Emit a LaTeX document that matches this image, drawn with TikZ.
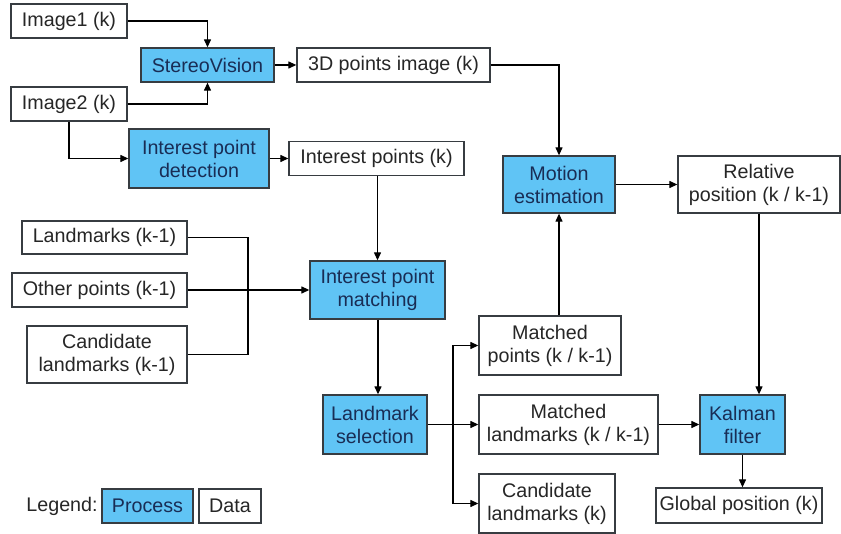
\documentclass[tikz,border=0pt]{standalone}
\usepackage{fontspec}
\setmainfont{Liberation Sans}
\usepackage{tikz}
\usetikzlibrary{arrows.meta,calc,positioning}
\definecolor{procblue}{RGB}{96,196,245}
\definecolor{proctext}{RGB}{25,45,85}
\definecolor{boxline}{RGB}{55,60,65}
\tikzset{
	proc/.style={draw=boxline,fill=procblue,text=proctext,line width=1.3pt,align=center,inner sep=0pt,font=\fontsize{19.7}{23}\selectfont},
	dat/.style={draw=boxline,fill=white,text=black!85,line width=1.3pt,align=center,inner sep=0pt,font=\fontsize{19.7}{23}\selectfont},
	edge/.style={color=black, line width=1.2pt},
	diredge/.style={-{Triangle[width=7pt,length=8pt]},color=black, line width=1.2pt}
}
\begin{document}
\begin{tikzpicture}[x=1pt,y=-1pt]
\useasboundingbox (0,0) rectangle (841,534);

    \node[dat,minimum width=116pt,minimum height=34pt] (IMA) at (69,21) {Image1 (k)};
    \node[proc,minimum width=133pt,minimum height=34pt] (SV) at (207.5,65) {StereoVision};
    \node[dat,minimum width=116pt,minimum height=34pt] (IMB) at (69,104) {Image2 (k)};
    \node[proc,minimum width=140pt,minimum height=59pt] (IPD) at (199,158.5) {Interest point\\detection};
    \node[dat,minimum width=193pt,minimum height=34pt] (P3D) at (393.5,65) {3D points image (k)};
    \node[dat,minimum width=175pt,minimum height=34pt] (IP) at (376.5,158.5) {Interest points (k)};
    \node[proc,minimum width=112pt,minimum height=57pt] (ME) at (559,184.5) {Motion\\estimation};
    \node[dat,minimum width=162pt,minimum height=57pt] (RP) at (759,184.5) {Relative\\position (k / k-1)};

    \node[dat,minimum width=165pt,minimum height=33pt] (LM) at (104.5,237.5) {Landmarks (k-1)};
    \node[dat,minimum width=175pt,minimum height=34pt] (OP) at (99.5,290) {Other points (k-1)};
    \node[dat,minimum width=160pt,minimum height=57pt] (CL) at (107,354.5) {Candidate\\landmarks (k-1)};
    \node[proc,minimum width=135pt,minimum height=58pt] (IPM) at (377.5,290) {Interest point\\matching};

    \node[dat,minimum width=142pt,minimum height=59pt] (MP) at (550,345.5) {Matched\\points (k / k-1)};
    \node[proc,minimum width=104pt,minimum height=59pt] (LS) at (375,424.5) {Landmark\\selection};
    \node[dat,minimum width=179pt,minimum height=59pt] (ML) at (568.5,424.5) {Matched\\landmarks (k / k-1)};
    \node[proc,minimum width=85pt,minimum height=59pt] (KF) at (742.5,424.5) {Kalman\\filter};
    \node[dat,minimum width=136pt,minimum height=59pt] (CK) at (547,503.5) {Candidate\\landmarks (k)};
    \node[dat,minimum width=166pt,minimum height=35pt] (GP) at (739,505.5) {Global position (k)};

    \node[text=black!85,font=\fontsize{19.7}{23}\selectfont] (LEG) at (62,506) {Legend:};
    \node[proc,minimum width=91pt,minimum height=34pt] (LP) at (147.5,506) {Process};
    \node[dat,minimum width=62pt,minimum height=34pt] (LD) at (230,506) {Data};

    \coordinate (BL) at (248,290);
    \coordinate (BR) at (453,424.5);

    \draw[diredge] (IMA) -| (SV);
    \draw[diredge] (IMB) -| (SV);
    \draw[diredge] (IMB) |- (IPD);
    \draw[diredge] (SV) -- (P3D);
    \draw[diredge] (IPD) -- (IP);
    \draw[diredge] (P3D) -| (ME);
    \draw[diredge] (IP.south -| IPM.north) -- (IPM.north);

    \draw[edge] (LM.east) -| (BL) |- (CL.east);
    \draw[diredge] (OP) -- (IPM);
    \draw[diredge] (IPM.south -| LS.north) ++(3,0) -- ($(LS.north)+(3,0)$);

    \draw[edge] (LS) -- (BR);
    \draw[diredge] (BR) |- (MP);
    \draw[diredge] (BR) -- (ML);
    \draw[diredge] (BR) |- (CK);
    \draw[diredge] (MP.north -| ME.south) -- (ME.south);
    \draw[diredge] (ME) -- (RP);
    \draw[diredge] (RP.south) -- (RP.south |- KF.north);
    \draw[diredge] (ML) -- (KF);
    \draw[diredge] (KF.south) -- (KF.south |- GP.north);
\end{tikzpicture}
\end{document}
